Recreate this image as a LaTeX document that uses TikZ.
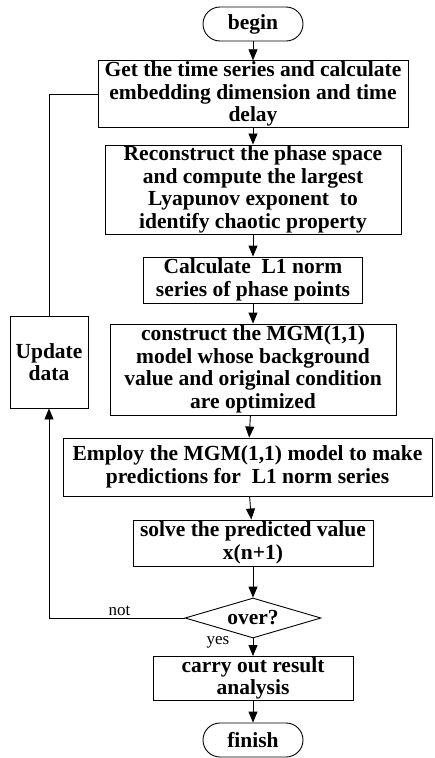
\documentclass[tikz,border=0pt]{standalone}
\usepackage{fontspec}
\setmainfont{Liberation Serif}
\usetikzlibrary{shapes.geometric, positioning, arrows.meta}
\tikzset{node distance=90pt, % centre to centre, shifted below where needed
every node/.style={font=\fontsize{21.5}{22.5}\selectfont\bfseries},
procbox/.style={ % the process boxes
draw, line width=0.9pt, align=center, inner sep=1pt},
termbox/.style={ % begin / finish
draw, line width=0.9pt, rounded corners=17pt, minimum width=100pt, minimum height=34pt},
decbox/.style={ % the test
draw, line width=0.9pt, diamond, aspect=3.4, inner sep=0pt, minimum width=136pt, minimum height=40pt},
lbl/.style={font=\fontsize{17}{19}\selectfont\mdseries},
>={Triangle[length=11pt,width=9pt]},
every edge/.style={ % connectors
draw,->,line width=0.9pt}}

\begin{document}
\begin{tikzpicture}

    \useasboundingbox (0,0) rectangle (434pt,-758pt);

    \node[termbox] (begin) at (253pt,-24pt) {begin};
    \node[procbox, below of=begin, yshift=20pt, minimum width=310pt, minimum height=66pt] (series) {Get the time series and calculate\\embedding dimension and time\\delay};
    \node[procbox, below of=series, yshift=-5.5pt, minimum width=296pt, minimum height=89pt] (phase) {Reconstruct the phase space\\and compute the largest\\Lyapunov exponent\ \ to\\identify chaotic property};
    \node[procbox, below of=phase, yshift=-0.5pt, minimum width=219pt, minimum height=46pt] (norm) {Calculate\ \ L1 norm\\series of phase points};
    \node[procbox, below of=norm, yshift=0.5pt, minimum width=286pt, minimum height=91pt] (model) {construct the MGM(1,1)\\model whose background\\value and original condition\\are optimized};
    \node[procbox, below of=model, yshift=-7.5pt, xshift=-5.5pt, minimum width=369pt, minimum height=58pt] (predict) {Employ the MGM(1,1) model to make\\predictions for\ \ L1 norm series};
    \node[procbox, below of=predict, yshift=14pt, xshift=5.5pt, minimum width=240pt, minimum height=46pt] (solve) {solve the predicted value\\x(n+1)};
    \node[decbox, below of=solve, yshift=15pt] (over) {over?};
    \node[procbox, below of=over, yshift=29.5pt, minimum width=200pt, minimum height=43pt] (result) {carry out result\\analysis};
    \node[termbox, below of=result, yshift=28.5pt] (finish) {finish};
    \node[procbox, left of=model, xshift=-114pt, yshift=7.5pt, minimum width=78pt, minimum height=92pt] (update) {Update\\data};

    \draw (begin) edge (series);
    \draw (series) edge (phase);
    \draw (phase) edge (norm);
    \draw (norm) edge (model);
    \draw (model) edge (predict);
    \draw (predict) edge (solve);
    \draw (solve) edge (over);
    \draw (over) edge node[lbl, left=20pt, pos=0.2] {yes} (result);
    \draw (result) edge (finish);
    \draw[->, line width=0.9pt] (over.west) -- node[lbl, above=-1pt, pos=0.48] {not} (over.west -| update.south) -- (update.south);
    \draw[line width=0.9pt] (update.north) |- (series.west);

\end{tikzpicture}
\end{document}
